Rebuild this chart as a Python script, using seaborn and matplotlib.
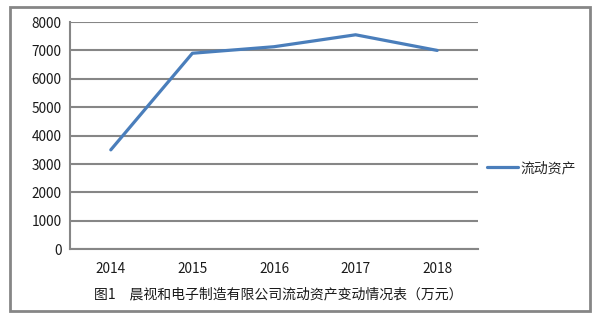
import pandas as pd
import seaborn as sns
import matplotlib.pyplot as plt
from matplotlib.patches import Rectangle

# 数据
years = ['2014', '2015', '2016', '2017', '2018']
current_assets = [3500, 6900, 7130, 7550, 7000]
series_name = '流动资产'
y_ticks = [0, 1000, 2000, 3000, 4000, 5000, 6000, 7000, 8000]
caption = '图1\u3000晨视和电子制造有限公司流动资产变动情况表（万元）'

df = pd.DataFrame({'year': years, 'value': current_assets})

sns.set_style('white')
plt.rcParams['font.family'] = ['Noto Sans CJK SC', 'DejaVu Sans']

grey = '#868686'
blue = '#4A7EBB'

fig = plt.figure(figsize=(6.04, 3.17), dpi=100)
ax = fig.add_axes([70 / 604, 1 - 249.3 / 317, (478 - 70) / 604, (249.3 - 22) / 317])

sns.lineplot(data=df, x='year', y='value', ax=ax, color=blue, linewidth=2.3,
             label=series_name, sort=False, zorder=3)

ax.set_xlim(-0.5, len(years) - 0.5)
ax.set_ylim(0, 8000)
ax.set_yticks(y_ticks)
ax.set_xlabel('')
ax.set_ylabel('')

# 网格线
ax.yaxis.grid(True, color=grey, linewidth=1.5)
ax.set_axisbelow(True)

for s in ['top', 'right']:
    ax.spines[s].set_visible(False)
for s in ['left', 'bottom']:
    ax.spines[s].set_color(grey)
    ax.spines[s].set_linewidth(1.5)

ax.tick_params(axis='y', length=4, width=1.5, color=grey, labelsize=9.8,
               labelcolor='#1a1a1a', pad=2)
ax.tick_params(axis='x', which='major', length=0, labelsize=9.8,
               labelcolor='#1a1a1a', pad=9)
ax.set_xticks([i - 0.5 for i in range(len(years) + 1)], minor=True)
ax.tick_params(axis='x', which='minor', length=4, width=1.5, color=grey)

ax.legend(loc='center left', bbox_to_anchor=(487 / 604, 1 - 168 / 317),
          bbox_transform=fig.transFigure, frameon=False, borderpad=0,
          borderaxespad=0, handlelength=2.2, handletextpad=0.2, fontsize=10)

fig.text(278 / 604, 1 - 294 / 317, caption, ha='center', va='center',
         fontsize=10, color='#1a1a1a')

# 外框
fig.patches.append(Rectangle((10 / 604, 1 - 311 / 317), 580 / 604, 304 / 317,
                             transform=fig.transFigure, fill=False,
                             edgecolor=grey, linewidth=2))

fig.savefig('out.png', dpi=100)
